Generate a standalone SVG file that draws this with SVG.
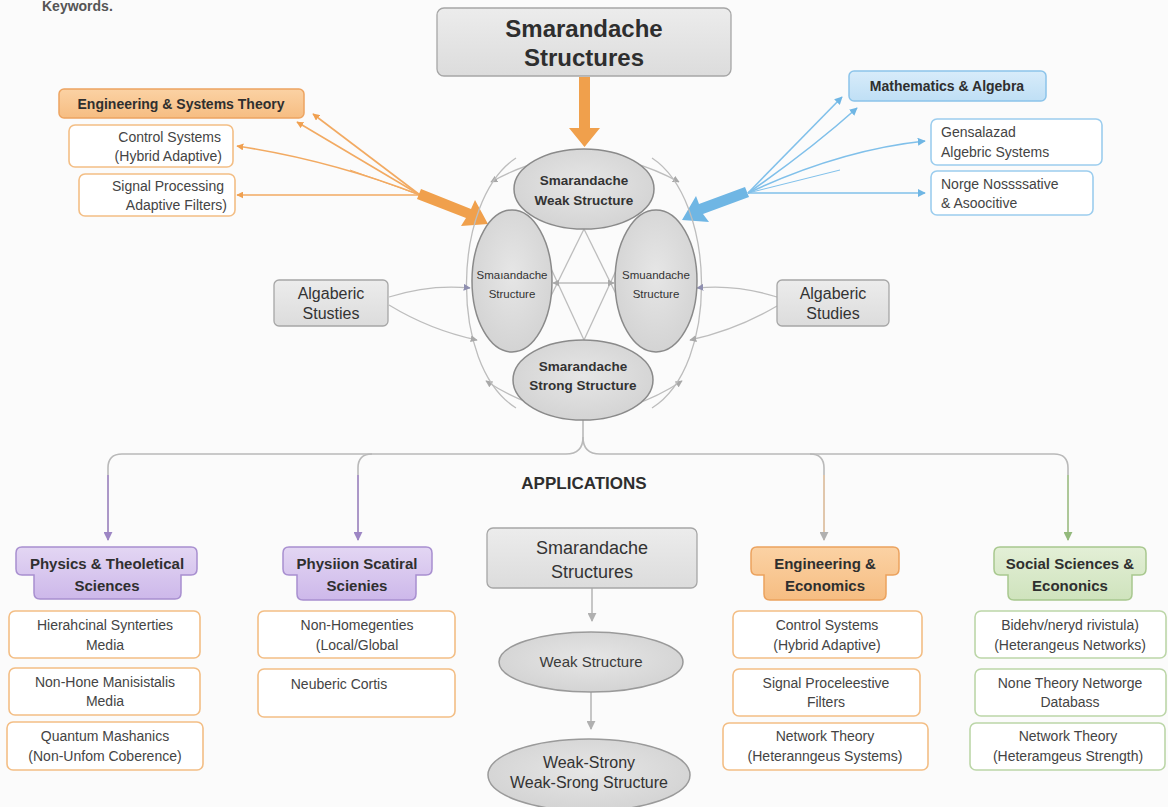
<svg xmlns="http://www.w3.org/2000/svg" width="1168" height="807" viewBox="0 0 1168 807">
  <defs>
    <linearGradient id="gGray" x1="0" y1="0" x2="0" y2="1">
      <stop offset="0" stop-color="#ececec"/>
      <stop offset="1" stop-color="#dcdcdc"/>
    </linearGradient>
    <radialGradient id="gEll" cx="0.5" cy="0.45" r="0.6">
      <stop offset="0" stop-color="#e6e6e6"/>
      <stop offset="1" stop-color="#d2d2d2"/>
    </radialGradient>
    <linearGradient id="gOrange" x1="0" y1="0" x2="0" y2="1">
      <stop offset="0" stop-color="#fbd2a4"/>
      <stop offset="1" stop-color="#f6bd82"/>
    </linearGradient>
    <linearGradient id="gBlue" x1="0" y1="0" x2="0" y2="1">
      <stop offset="0" stop-color="#d8ecfa"/>
      <stop offset="1" stop-color="#bfdff5"/>
    </linearGradient>
    <linearGradient id="gPurple" x1="0" y1="0" x2="0" y2="1">
      <stop offset="0" stop-color="#e3d6f3"/>
      <stop offset="1" stop-color="#cdb8ea"/>
    </linearGradient>
    <linearGradient id="gGreen" x1="0" y1="0" x2="0" y2="1">
      <stop offset="0" stop-color="#e3efd6"/>
      <stop offset="1" stop-color="#cfe3bd"/>
    </linearGradient>
    <marker id="mOrange" viewBox="0 0 10 10" refX="9" refY="5" markerWidth="7" markerHeight="7" orient="auto-start-reverse" markerUnits="userSpaceOnUse">
      <path d="M0,0 L10,5 L0,10 Z" fill="#f0a050"/>
    </marker>
    <marker id="mBlue" viewBox="0 0 10 10" refX="9" refY="5" markerWidth="8" markerHeight="8" orient="auto-start-reverse" markerUnits="userSpaceOnUse">
      <path d="M0,0 L10,5 L0,10 Z" fill="#6fb6e4"/>
    </marker>
    <marker id="mGray" viewBox="0 0 10 10" refX="9" refY="5" markerWidth="7" markerHeight="7" orient="auto-start-reverse" markerUnits="userSpaceOnUse">
      <path d="M0,0 L10,5 L0,10 Z" fill="#a8a8a8"/>
    </marker>
    <marker id="mGrayL" viewBox="0 0 10 10" refX="9" refY="5" markerWidth="9" markerHeight="9" orient="auto-start-reverse" markerUnits="userSpaceOnUse">
      <path d="M0,0 L10,5 L0,10 Z" fill="#b0b0b0"/>
    </marker>
    <marker id="mPurple" viewBox="0 0 10 10" refX="9" refY="5" markerWidth="9" markerHeight="9" orient="auto-start-reverse" markerUnits="userSpaceOnUse">
      <path d="M0,0 L10,5 L0,10 Z" fill="#9d86c4"/>
    </marker>
    <marker id="mGreen" viewBox="0 0 10 10" refX="9" refY="5" markerWidth="9" markerHeight="9" orient="auto-start-reverse" markerUnits="userSpaceOnUse">
      <path d="M0,0 L10,5 L0,10 Z" fill="#93b97c"/>
    </marker>
    <marker id="mSlate" viewBox="0 0 10 10" refX="9" refY="5" markerWidth="7" markerHeight="7" orient="auto-start-reverse" markerUnits="userSpaceOnUse">
      <path d="M0,0 L10,5 L0,10 Z" fill="#8f8fb0"/>
    </marker>
    <style>
      text { font-family: "Liberation Sans", Arial, sans-serif; fill: #3a3a3a; }
      .title { font-size: 24px; font-weight: bold; fill: #2e2e2e; text-anchor: middle; }
      .hdr { font-size: 15px; font-weight: bold; fill: #2f2f2f; text-anchor: middle; }
      .item { font-size: 14px; fill: #444; text-anchor: middle; }
      .ell { font-size: 13.5px; font-weight: bold; fill: #333; text-anchor: middle; }
      .ellS { font-size: 11.5px; fill: #333; text-anchor: middle; }
      .side { font-size: 16px; fill: #333; text-anchor: middle; }
      .gbox { fill: url(#gGray); stroke: #a6a6a6; stroke-width: 1.3; }
      .gell { fill: url(#gEll); stroke: #8a8a8a; stroke-width: 1.5; }
      .obox { fill: #ffffff; stroke: #f3be85; stroke-width: 1.6; }
      .bbox { fill: #ffffff; stroke: #9ccdee; stroke-width: 1.6; }
      .grbox { fill: #ffffff; stroke: #bcd6a8; stroke-width: 1.6; }
      .oline { fill: none; stroke: #f2aa62; stroke-width: 1.6; }
      .bline { fill: none; stroke: #80c0ea; stroke-width: 1.6; }
      .gline { fill: none; stroke: #bdbdbd; stroke-width: 1.3; }
      .tline { fill: none; stroke: #b9b9b9; stroke-width: 1.6; }
    </style>
  </defs>

  <rect width="1168" height="807" fill="#fbfbfb"/>

  <!-- caption at the top edge -->
  <text x="42" y="11" style="font-size:14px;font-weight:bold;fill:#555">Keywords.</text>

  <!-- connectors -->
  <g id="connectors">
    <!-- heavy arrow from the title box -->
    <path d="M579,77 H590 V128 H600 L584.5,147 L569,128 H579 Z" fill="#f0a04c"/>

    <!-- orange fan -->
    <path class="oline" d="M420,195 L313,114" marker-end="url(#mOrange)"/>
    <path class="oline" d="M420,195 L297,122" marker-end="url(#mOrange)"/>
    <path class="oline" d="M420,195 Q330,160 237,146" marker-end="url(#mOrange)"/>
    <path class="oline" d="M420,195 L237,195" marker-end="url(#mOrange)"/>
    <path class="oline" d="M420,195 L350,170" style="stroke-width:1"/>
    <path d="M421,189 L471,209 L475,200 L488,224 L461,226 L466,218 L417,199 Z" fill="#f0a04c"/>

    <!-- blue fan -->
    <path class="bline" d="M748,193 L842,97" marker-end="url(#mBlue)"/>
    <path class="bline" d="M748,193 Q810,150 857,108" marker-end="url(#mBlue)"/>
    <path class="bline" d="M748,193 Q840,150 925,141" marker-end="url(#mBlue)"/>
    <path class="bline" d="M748,193 L925,193" marker-end="url(#mBlue)"/>
    <path class="bline" d="M748,193 L840,170" style="stroke-width:1"/>
    <path d="M745,187 L699,204 L696,196 L682,220 L709,222 L703,214 L749,197 Z" fill="#6fb6e4"/>

    <!-- curved ties around the central cluster -->
    <path class="gline" d="M491,182 Q584,130 679,182" marker-start="url(#mGray)" marker-end="url(#mGray)"/>
    <path class="gline" d="M486,381 Q584,445 682,381" marker-start="url(#mGray)" marker-end="url(#mGray)"/>
    <path class="gline" d="M516,158 C452,200 448,365 516,408"/>
    <path class="gline" d="M652,158 C716,200 720,365 652,408"/>

    <!-- inner star lines -->
    <path class="gline" d="M584,229 L548,302"/>
    <path class="gline" d="M584,229 L620,302"/>
    <path class="gline" d="M584,340 L548,262"/>
    <path class="gline" d="M584,340 L620,262"/>
    <path class="gline" d="M553,283 L614,283" marker-start="url(#mGray)" marker-end="url(#mGray)"/>

    <!-- links from the side boxes -->
    <path class="gline" d="M389,297 Q430,284 470,288" marker-end="url(#mSlate)"/>
    <path class="gline" d="M389,305 Q430,330 477,340" marker-end="url(#mGray)"/>
    <path class="gline" d="M777,297 Q736,284 697,288" marker-end="url(#mSlate)"/>
    <path class="gline" d="M777,306 Q736,330 690,340" marker-end="url(#mGray)"/>

    <!-- application tree -->
    <path class="tline" d="M583,420 V437 Q583,454 566,454 H122 Q108,454 108,468 V540"/>
    <path class="tline" d="M583,437 Q583,454 600,454 H1054 Q1068,454 1068,468 V540"/>
    <path class="tline" d="M372,454 Q358,454 358,468 V540"/>
    <path class="tline" d="M810,454 Q824,454 824,468 V540"/>
    <path fill="none" stroke="#a58cc8" stroke-width="1.6" d="M108,475 V540" marker-end="url(#mPurple)"/>
    <path fill="none" stroke="#a58cc8" stroke-width="1.6" d="M358,475 V540" marker-end="url(#mPurple)"/>
    <path fill="none" stroke="#e8c7a6" stroke-width="1.6" d="M824,475 V540" marker-end="url(#mGrayL)"/>
    <path fill="none" stroke="#a8c88e" stroke-width="1.6" d="M1068,475 V540" marker-end="url(#mGreen)"/>

    <!-- middle column chain -->
    <path class="tline" d="M592,588 V621" marker-end="url(#mGrayL)"/>
    <path class="tline" d="M591,692 V729" marker-end="url(#mGrayL)"/>
  </g>

  <!-- title -->
  <g id="title">
    <rect class="gbox" x="437" y="8" width="294" height="68" rx="7"/>
    <text class="title" x="584" y="37">Smarandache</text>
    <text class="title" x="584" y="66">Structures</text>
  </g>

  <!-- central cluster -->
  <g id="weak">
    <ellipse class="gell" cx="584" cy="189" rx="70" ry="40"/>
    <text class="ell" x="584" y="185">Smarandache</text>
    <text class="ell" x="584" y="205">Weak Structure</text>
  </g>
  <g id="left-structure">
    <ellipse class="gell" cx="512" cy="281" rx="40" ry="71"/>
    <text class="ellS" x="512" y="279">Smaıandache</text>
    <text class="ellS" x="512" y="298">Structure</text>
  </g>
  <g id="right-structure">
    <ellipse class="gell" cx="656" cy="281" rx="41" ry="71"/>
    <text class="ellS" x="656" y="279">Smuandache</text>
    <text class="ellS" x="656" y="298">Structure</text>
  </g>
  <g id="strong">
    <ellipse class="gell" cx="583" cy="380" rx="70" ry="40"/>
    <text class="ell" x="583" y="371">Smarandache</text>
    <text class="ell" x="583" y="390">Strong Structure</text>
  </g>

  <!-- engineering branch -->
  <g id="eng-systems">
    <rect x="59" y="89" width="245" height="29" rx="5" fill="url(#gOrange)" stroke="#eda461" stroke-width="1.5"/>
    <text class="hdr" x="181" y="109" style="font-size:14px">Engineering &amp; Systems Theory</text>
  </g>
  <g id="eng-control">
    <rect class="obox" x="69" y="125" width="164" height="42" rx="6"/>
    <text class="item" x="221" y="142" style="text-anchor:end">Control Systems</text>
    <text class="item" x="222" y="161" style="text-anchor:end">(Hybrid Adaptive)</text>
  </g>
  <g id="eng-signal">
    <rect class="obox" x="79" y="174" width="156" height="42" rx="6"/>
    <text class="item" x="224" y="191" style="text-anchor:end">Signal Processing</text>
    <text class="item" x="227" y="210" style="text-anchor:end">Adaptive Filters)</text>
  </g>

  <!-- mathematics branch -->
  <g id="math-algebra">
    <rect x="849" y="71" width="197" height="30" rx="5" fill="url(#gBlue)" stroke="#8cc4ea" stroke-width="1.5"/>
    <text class="hdr" x="947" y="91" style="font-size:14px">Mathematics &amp; Algebra</text>
  </g>
  <g id="math-general">
    <rect class="bbox" x="931" y="119" width="171" height="46" rx="6"/>
    <text class="item" x="941" y="137" style="text-anchor:start">Gensalazad</text>
    <text class="item" x="941" y="157" style="text-anchor:start">Algebric Systems</text>
  </g>
  <g id="math-nonassoc">
    <rect class="bbox" x="931" y="171" width="162" height="44" rx="6"/>
    <text class="item" x="941" y="189" style="text-anchor:start">Norge Nossssative</text>
    <text class="item" x="941" y="208" style="text-anchor:start">&amp; Asoocitive</text>
  </g>

  <!-- side boxes -->
  <g id="alg-left">
    <rect class="gbox" x="274" y="280" width="114" height="46" rx="5"/>
    <text class="side" x="331" y="299">Algaberic</text>
    <text class="side" x="331" y="319">Stusties</text>
  </g>
  <g id="alg-right">
    <rect class="gbox" x="777" y="280" width="112" height="46" rx="5"/>
    <text class="side" x="833" y="299">Algaberic</text>
    <text class="side" x="833" y="319">Studies</text>
  </g>

  <text id="applications" x="584" y="489" style="font-size:17px;font-weight:bold;fill:#2e2e2e;text-anchor:middle">APPLICATIONS</text>

  <!-- physics column -->
  <g id="physics">
    <path d="M22,547 H191 Q197,547 197,553 V569 Q197,575 191,575 H181 V593 Q181,599 175,599 H40 Q34,599 34,593 V575 H22 Q16,575 16,569 V553 Q16,547 22,547 Z" fill="url(#gPurple)" stroke="#a88fd0" stroke-width="1.5"/>
    <text class="hdr" x="107" y="569">Physics &amp; Theoletical</text>
    <text class="hdr" x="107" y="591">Sciences</text>
  </g>
  <g id="phys-1">
    <rect class="obox" x="9" y="611" width="191" height="47" rx="6"/>
    <text class="item" x="105" y="630">Hierahcinal Synterties</text>
    <text class="item" x="105" y="650">Media</text>
  </g>
  <g id="phys-2">
    <rect class="obox" x="9" y="668" width="191" height="47" rx="6"/>
    <text class="item" x="105" y="687">Non-Hone Manisistalis</text>
    <text class="item" x="105" y="706">Media</text>
  </g>
  <g id="phys-3">
    <rect class="obox" x="7" y="722" width="196" height="48" rx="6"/>
    <text class="item" x="105" y="741">Quantum Mashanics</text>
    <text class="item" x="105" y="761">(Non-Unfom Coberence)</text>
  </g>

  <!-- second physics column -->
  <g id="physion">
    <path d="M289,547 H426 Q432,547 432,553 V569 Q432,575 426,575 H416 V594 Q416,600 410,600 H303 Q297,600 297,594 V575 H289 Q283,575 283,569 V553 Q283,547 289,547 Z" fill="url(#gPurple)" stroke="#a88fd0" stroke-width="1.5"/>
    <text class="hdr" x="357" y="569">Physiion Scatiral</text>
    <text class="hdr" x="357" y="591">Scienies</text>
  </g>
  <g id="physion-1">
    <rect class="obox" x="258" y="611" width="197" height="47" rx="6"/>
    <text class="item" x="357" y="630">Non-Homegenties</text>
    <text class="item" x="357" y="650">(Local/Global</text>
  </g>
  <g id="physion-2">
    <rect class="obox" x="258" y="669" width="197" height="48" rx="6"/>
    <text class="item" x="339" y="689">Neuberic Cortis</text>
  </g>

  <!-- middle column -->
  <g id="mid-structures">
    <rect class="gbox" x="487" y="528" width="210" height="60" rx="6"/>
    <text class="side" x="592" y="554" style="font-size:18px">Smarandache</text>
    <text class="side" x="592" y="578" style="font-size:18px">Structures</text>
  </g>
  <g id="mid-weak">
    <ellipse class="gell" cx="591" cy="662" rx="92" ry="30" style="stroke:#9a9a9a"/>
    <text class="item" x="591" y="667" style="font-size:15px;fill:#3a3a3a">Weak Structure</text>
  </g>
  <g id="mid-weak-strong">
    <ellipse class="gell" cx="589" cy="775" rx="101" ry="36" style="stroke:#9a9a9a"/>
    <text class="item" x="589" y="768" style="font-size:16px;fill:#333">Weak-Strony</text>
    <text class="item" x="589" y="788" style="font-size:16px;fill:#333">Weak-Srong Structure</text>
  </g>

  <!-- engineering column -->
  <g id="eng-econ">
    <path d="M757,547 H893 Q899,547 899,553 V569 Q899,575 893,575 H886 V594 Q886,600 880,600 H770 Q764,600 764,594 V575 H757 Q751,575 751,569 V553 Q751,547 757,547 Z" fill="url(#gOrange)" stroke="#eba25e" stroke-width="1.5"/>
    <text class="hdr" x="825" y="569">Engineering &amp;</text>
    <text class="hdr" x="825" y="591">Economics</text>
  </g>
  <g id="ee-1">
    <rect class="obox" x="733" y="611" width="189" height="47" rx="6"/>
    <text class="item" x="827" y="630">Control Systems</text>
    <text class="item" x="827" y="650">(Hybrid Adaptive)</text>
  </g>
  <g id="ee-2">
    <rect class="obox" x="733" y="669" width="187" height="47" rx="6"/>
    <text class="item" x="826" y="688">Signal Proceleestive</text>
    <text class="item" x="826" y="707">Filters</text>
  </g>
  <g id="ee-3">
    <rect class="obox" x="723" y="723" width="205" height="47" rx="6"/>
    <text class="item" x="825" y="741">Network Theory</text>
    <text class="item" x="825" y="761">(Heteranngeus Systems)</text>
  </g>

  <!-- social sciences column -->
  <g id="social">
    <path d="M1000,547 H1140 Q1146,547 1146,553 V569 Q1146,575 1140,575 H1132 V594 Q1132,600 1126,600 H1014 Q1008,600 1008,594 V575 H1000 Q994,575 994,569 V553 Q994,547 1000,547 Z" fill="url(#gGreen)" stroke="#a8c88e" stroke-width="1.5"/>
    <text class="hdr" x="1070" y="569">Social Sciences &amp;</text>
    <text class="hdr" x="1070" y="591">Econonics</text>
  </g>
  <g id="soc-1">
    <rect class="grbox" x="975" y="611" width="191" height="47" rx="6"/>
    <text class="item" x="1070" y="630">Bidehv/neryd rivistula)</text>
    <text class="item" x="1070" y="650">(Heterangeus Networks)</text>
  </g>
  <g id="soc-2">
    <rect class="grbox" x="975" y="669" width="191" height="47" rx="6"/>
    <text class="item" x="1070" y="688">None Theory Networge</text>
    <text class="item" x="1070" y="707">Databass</text>
  </g>
  <g id="soc-3">
    <rect class="grbox" x="970" y="723" width="195" height="47" rx="6"/>
    <text class="item" x="1068" y="741">Network Theory</text>
    <text class="item" x="1068" y="761">(Heteramgeus Strength)</text>
  </g>
</svg>
